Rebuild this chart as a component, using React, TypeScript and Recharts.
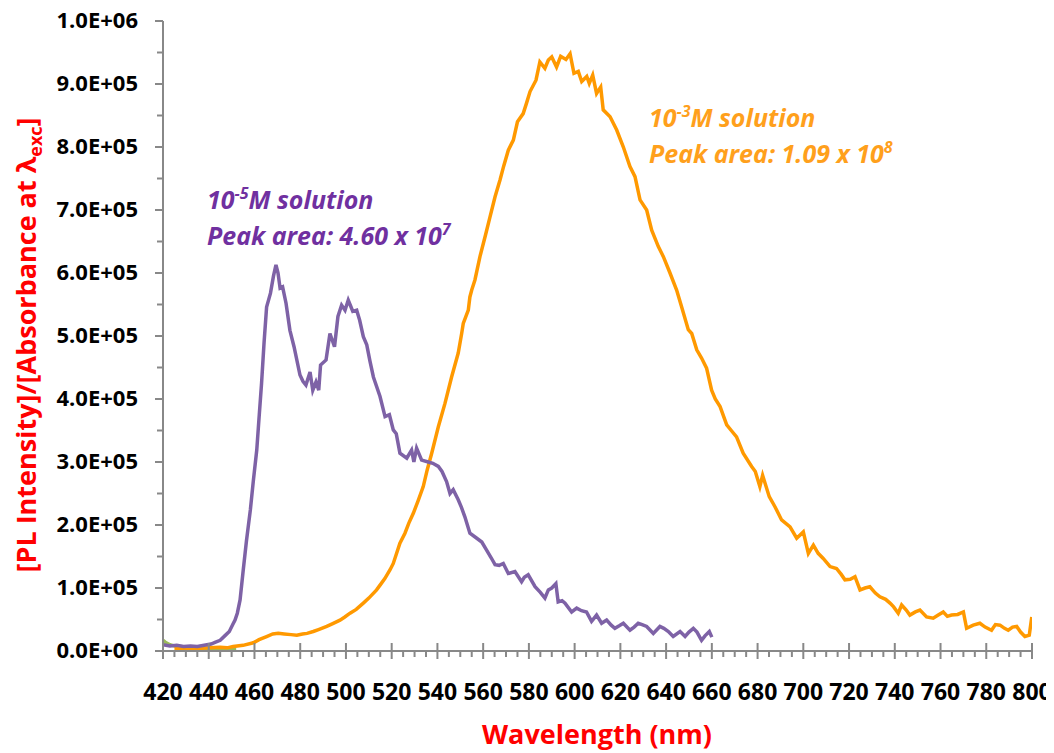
import { LineChart, Line, XAxis, YAxis } from 'recharts';

// wavelengths (nm) and intensities (x 1000)
const purpleWl = [420, 423, 426, 429, 432, 435, 438, 441, 443, 445, 447, 449, 450.5, 451.5, 452.5, 453.7, 455.1, 456.5, 458.2, 459.5, 461, 462, 463.1, 464.2, 465.3, 467, 468.3, 469.4, 470.3, 471.2, 472.3, 473.8, 475.5, 477.3, 479.9, 481.2, 482.5, 484.3, 485.5, 486.9, 488.1, 488.9, 491.3, 493, 495, 496.5, 498.1, 499.6, 501, 502, 503, 504.7, 506, 507.6, 509.1, 510.5, 512, 514.9, 517.1, 519, 520.7, 522, 523.6, 526.6, 528.7, 529.7, 530.9, 533.1, 536, 538, 540.4, 542, 544, 545.5, 546.9, 549.1, 550.5, 552, 554.2, 557.2, 559.4, 561.5, 563.5, 565.2, 567, 568.8, 571, 573.9, 576.8, 578, 579.7, 582.7, 585, 587, 588.5, 590, 591.8, 592.8, 594.5, 595.8, 598.7, 600.9, 603, 605.2, 607.4, 609.6, 611.8, 614, 616, 617.6, 619.5, 621.3, 624.2, 626, 627.8, 629.5, 631.5, 634.4, 637.3, 639, 641, 643.1, 646.1, 648.3, 650, 651.9, 653.5, 655.5, 657, 658.9, 660];
const purpleVal = [10, 8, 9, 7, 8, 7, 9, 11, 14, 17, 24, 31, 42, 49, 60, 81, 129, 175, 224, 270, 319, 370, 425, 490, 546, 568, 595, 613, 600, 576, 578, 552, 509, 483, 438, 428, 422, 443, 414, 427, 414, 454, 462, 504, 483, 531, 549, 541, 557, 548, 539, 541, 525, 499, 486, 460, 435, 404, 372, 375, 351, 345, 314, 306, 319, 300, 322, 303, 300, 298, 293, 285, 269, 250, 256, 240, 228, 213, 187, 179, 173, 160, 148, 137, 136, 139, 123, 126, 110, 117, 121, 102, 93, 84, 97, 100, 107, 78, 80, 76, 62, 68, 64, 62, 47, 57, 44, 49, 41, 36, 40, 44, 33, 38, 44, 42, 39, 28, 39, 36, 31, 23, 31, 23, 30, 36, 30, 17, 24, 31, 22];

const orangeWl = [425, 430, 435, 440, 445, 448, 450.7, 455, 459.5, 462, 465.3, 468, 470.4, 473, 476, 478.5, 481, 483, 485.7, 488, 491.6, 494, 497.4, 499.5, 501.8, 504.5, 507.6, 510, 513.4, 515, 517, 519.3, 520.7, 523.6, 525.8, 527.5, 529.5, 531.5, 533.8, 535.5, 537.5, 540.4, 543.3, 546.2, 549.1, 550.6, 551.3, 553.5, 554.2, 555, 556.4, 558.6, 561, 563, 565.2, 567.4, 569, 571, 573.2, 575, 577.5, 579, 580.5, 583.1, 584.8, 587, 588.5, 590, 592.1, 593.9, 596.2, 598, 599.7, 601.6, 603.1, 605.3, 606.4, 607.9, 609.6, 611.4, 612.5, 615.5, 618.4, 621.3, 624.2, 626.4, 628.6, 631.5, 633.7, 636.6, 638.8, 641.7, 644.6, 646.8, 649.7, 651.2, 653.4, 655.5, 657.7, 659.9, 661.5, 663.6, 666.5, 668.5, 670.8, 673.7, 677.4, 679, 681, 682.2, 685.1, 687.6, 690.5, 694.2, 697.1, 700, 702.2, 704.4, 706.5, 708.7, 711.7, 714.5, 716.5, 718.2, 720.5, 722.6, 724.8, 727, 729.1, 731.5, 733.5, 736, 737.9, 739.5, 741.5, 743, 745, 746.6, 749, 751, 753.9, 756.8, 759, 761.2, 763, 764.8, 767.5, 770, 771.4, 774.3, 777.2, 779.5, 782.3, 784, 786, 788, 789.6, 791.5, 793.3, 795, 796.9, 798.8, 799.9];
const orangeVal = [4, 4, 4, 5, 6, 5, 7, 9, 13, 18, 23, 27, 28, 27, 26, 25, 27, 28, 31, 34, 39, 43, 49, 54, 60, 66, 76, 84, 97, 105, 115, 129, 139, 171, 187, 203, 219, 238, 261, 287, 314, 356, 393, 435, 473, 504, 520, 541, 562, 573, 589, 626, 660, 689, 721, 748, 770, 795, 811, 840, 853, 870, 888, 906, 935, 925, 938, 943, 927, 944, 939, 948, 917, 920, 904, 912, 901, 914, 885, 895, 859, 848, 827, 800, 769, 753, 716, 700, 668, 642, 626, 600, 573, 546, 510, 504, 478, 465, 449, 414, 400, 388, 359, 350, 340, 314, 293, 285, 261, 279, 245, 229, 208, 197, 179, 189, 155, 168, 155, 147, 134, 131, 122, 113, 114, 118, 97, 100, 102, 92, 86, 82, 76, 70, 60, 73, 65, 57, 62, 65, 54, 52, 57, 62, 55, 57, 58, 62, 36, 41, 44, 38, 33, 42, 41, 36, 33, 38, 39, 30, 23, 25, 54];

const greenWl = [420, 421, 423, 426, 429, 432, 436, 440, 444, 448, 452];
const greenVal = [17, 14, 10, 7, 5, 4, 3, 3, 3, 3, 3];

const xMajorTicks = [420, 440, 460, 480, 500, 520, 540, 560, 580, 600, 620, 640, 660, 680, 700, 720, 740, 760, 780, 800];
const yMajorTicks = [0, 100000, 200000, 300000, 400000, 500000, 600000, 700000, 800000, 900000, 1000000];
const yTickLabels = ['0.0E+00', '1.0E+05', '2.0E+05', '3.0E+05', '4.0E+05', '5.0E+05', '6.0E+05', '7.0E+05', '8.0E+05', '9.0E+05', '1.0E+06'];

const toPoints = (wl: number[], val: number[]) => wl.map((x, i) => ({ x, y: val[i] * 1000 }));
const purpleData = toPoints(purpleWl, purpleVal);
const orangeData = toPoints(orangeWl, orangeVal);
const greenData = toPoints(greenWl, greenVal);

// major ticks plus minor ticks between them
const xTicks = xMajorTicks.flatMap((t, i) => (i < xMajorTicks.length - 1 ? [t, t + 5, t + 10, t + 15] : [t]));
const yTicks = yMajorTicks.flatMap((t, i) => (i < yMajorTicks.length - 1 ? [t, t + 50000] : [t]));

const AXIS = '#888888';
const FONT = '"Open Sans", Lato, sans-serif';

function XTick({ x, y, payload }: any) {
  const v = payload.value;
  const major = xMajorTicks.includes(v);
  return (
    <g>
      <line x1={x} x2={x} y1={major ? y - 8 : y} y2={major ? y + 8 : y + 6} stroke={AXIS} strokeWidth={2} />
      {major && (
        <text x={x} y={y + 49} textAnchor="middle" fontFamily={FONT} fontWeight={700} fontSize={23} fill="#000">
          {v}
        </text>
      )}
    </g>
  );
}

function YTick({ x, y, payload }: any) {
  const v = payload.value;
  const idx = yMajorTicks.indexOf(v);
  const major = idx >= 0;
  return (
    <g>
      <line x1={major ? x - 8 : x - 6} x2={x} y1={y} y2={y} stroke={AXIS} strokeWidth={2} />
      {major && (
        <text x={x - 25} y={y + 7} textAnchor="end" fontFamily={FONT} fontWeight={700} fontSize={22} fill="#000">
          {yTickLabels[idx]}
        </text>
      )}
    </g>
  );
}

export default function App() {
  return (
    <div style={{ position: 'relative', width: 1054, height: 753, margin: '-8px 0 0 -8px', fontFamily: FONT }}>
      <LineChart width={1054} height={753} margin={{ top: 21, right: 22, left: 0, bottom: 0 }}>
        <XAxis
          type="number"
          dataKey="x"
          domain={[420, 800]}
          ticks={xTicks}
          interval={0}
          allowDataOverflow
          height={102}
          tickSize={0}
          tickMargin={0}
          tickLine={false}
          axisLine={{ stroke: AXIS, strokeWidth: 2 }}
          tick={(p: any) => <XTick {...p} />}
        />
        <YAxis
          type="number"
          domain={[0, 1000000]}
          ticks={yTicks}
          interval={0}
          width={163}
          tickSize={0}
          tickMargin={0}
          tickLine={false}
          axisLine={{ stroke: AXIS, strokeWidth: 2 }}
          tick={(p: any) => <YTick {...p} />}
        />
        <Line data={greenData} dataKey="y" type="linear" stroke="#9BBB59" strokeWidth={3.5} dot={false} isAnimationActive={false} />
        <Line data={orangeData} dataKey="y" type="linear" stroke="#FF9900" strokeWidth={3.5} dot={false} isAnimationActive={false} />
        <Line data={purpleData} dataKey="y" type="linear" stroke="#7E62A6" strokeWidth={3.5} dot={false} isAnimationActive={false} />
      </LineChart>
      <svg width={1054} height={753} style={{ position: 'absolute', left: 0, top: 0, pointerEvents: 'none' }}>
        <text
          transform="translate(36 345) rotate(-90)"
          textAnchor="middle"
          fontFamily={FONT}
          fontWeight={700}
          fontSize={27}
          fill="#FF0000"
        >
          [PL Intensity]/[Absorbance at λ<tspan fontSize={18} dy={6}>exc</tspan>
          <tspan dy={-6}>]</tspan>
        </text>
        <text x={597} y={744} textAnchor="middle" fontFamily={FONT} fontWeight={700} fontSize={27} fill="#FF0000">
          Wavelength (nm)
        </text>
        <g fontFamily={FONT} fontWeight={700} fontStyle="italic" fontSize={25} fill="#7030A0">
          <text x={207} y={209}>
            10<tspan fontSize={16} dy={-10}>-5</tspan>
            <tspan dy={10}>M solution</tspan>
          </text>
          <text x={207} y={245}>
            Peak area: 4.60 x 10<tspan fontSize={16} dy={-10}>7</tspan>
          </text>
        </g>
        <g fontFamily={FONT} fontWeight={700} fontStyle="italic" fontSize={25} fill="#FFA01C">
          <text x={649} y={127}>
            10<tspan fontSize={16} dy={-10}>-3</tspan>
            <tspan dy={10}>M solution</tspan>
          </text>
          <text x={649} y={163}>
            Peak area: 1.09 x 10<tspan fontSize={16} dy={-10}>8</tspan>
          </text>
        </g>
      </svg>
    </div>
  );
}
